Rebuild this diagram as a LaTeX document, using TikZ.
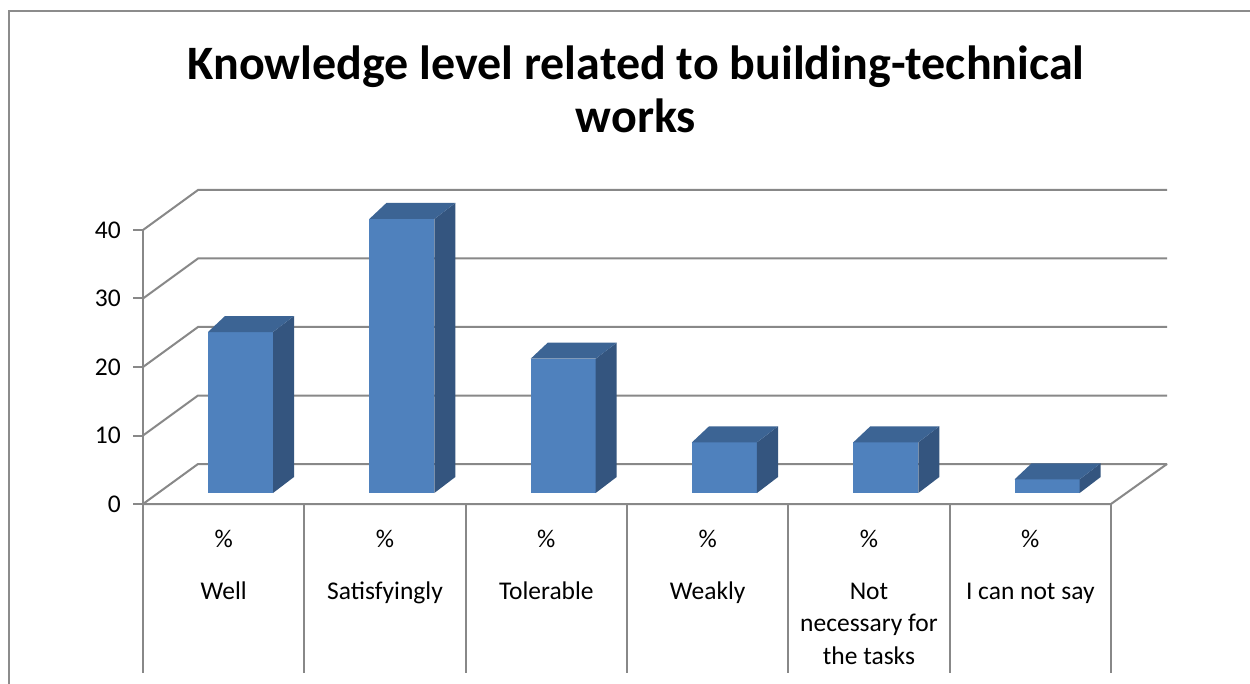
\documentclass[tikz,border=0pt]{standalone}
\usepackage{fontspec}
\setmainfont{Carlito}
\definecolor{barfront}{HTML}{4F81BD}
\definecolor{bartop}{HTML}{3C6494}
\definecolor{barside}{HTML}{34557F}
\definecolor{gridgray}{HTML}{888888}
\definecolor{framegray}{HTML}{8C8C8C}
\begin{document}
\begin{tikzpicture}[x=1pt,y=-1pt,
  gridline/.style={draw=gridgray,line width=2pt},
  frameline/.style={draw=framegray,line width=2.5pt},
  ticklabel/.style={anchor=east,inner sep=0pt,font=\fontsize{25.5}{30}\selectfont},
  catlabel/.style={anchor=base,inner sep=0pt,align=center,font=\fontsize{25.5}{32.5}\selectfont},
  titlelabel/.style={anchor=base,inner sep=0pt,align=center,font=\bfseries\fontsize{48}{53}\selectfont},
  front/.style={fill=barfront},
  topface/.style={fill=bartop},
  sideface/.style={fill=barside}]
\useasboundingbox (0,0) rectangle (1250,684);
\fill[white] (0,0) rectangle (1250,684);
% frame
\draw[frameline] (9,684) -- (9,11) -- (1250,11);
% title (base anchor = baseline of last line)
\node[titlelabel] (title) at (636,133) {Knowledge level related to building-technical\\works};
% gridlines and left wall
\foreach \v in {0,10,20,30,40}{
  \pgfmathsetmacro\yf{504-6.85*\v}
  \draw[gridline] (143,\yf) -- (198,\yf-40) -- (1167,\yf-40);
  \draw[gridline] (133,\yf) -- (143,\yf);
  \node[ticklabel] (t\v) at (121,\yf) {\v};
}
% axes and floor
\draw[gridline] (143,230.0) -- (143,504);
\draw[gridline] (143,504) -- (1111,504) -- (1167,464);
\foreach \k in {0,...,6}{
  \draw[gridline] ({143+161.33*\k},504) -- ({143+161.33*\k},673);
}
% bars
\foreach \k/\v in {0/23.5,1/40,2/19.6,3/7.4,4/7.4,5/2.0}{
  \pgfmathsetmacro\L{143+161.33*\k+65}
  \pgfmathsetmacro\R{\L+65}
  \pgfmathsetmacro\T{493-6.85*\v}
  \fill[front] (\L,493) rectangle (\R,\T);
  \fill[sideface] (\R,493) -- (\R+21,477) -- (\R+21,\T-16) -- (\R,\T) -- cycle;
  \fill[topface] (\L,\T) -- (\L+17,\T-16) -- (\R+21,\T-16) -- (\R,\T) -- cycle;
}
% category labels
\foreach \k/\lab/\by in {0/Well/599,1/Satisfyingly/599,2/Tolerable/599,3/Weakly/599,4/{Not\\necessary for\\the tasks}/664,5/I can not say/599}{
  \pgfmathsetmacro\cx{143+161.33*\k+80.67}
  \node[catlabel] (p\k) at (\cx,547) {\%};
  \node[catlabel] (c\k) at (\cx,\by) {\lab};
}
\end{tikzpicture}
\end{document}
